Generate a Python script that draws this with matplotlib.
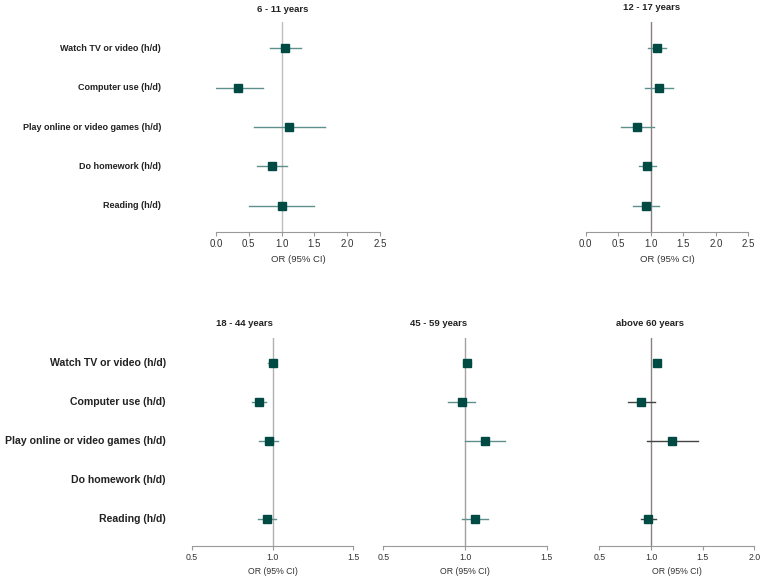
import matplotlib.pyplot as plt
import numpy as np
from matplotlib.transforms import blended_transform_factory

plt.rcParams['font.family'] = ['Liberation Sans', 'DejaVu Sans']

# activities (rows, top to bottom)
activities = ['Watch TV or video (h/d)', 'Computer use (h/d)',
              'Play online or video games (h/d)', 'Do homework (h/d)',
              'Reading (h/d)']

# odds ratios and 95% CI per age group (None = not reported)
or_6_11 = [1.05, 0.33, 1.12, 0.86, 1.00]
lo_6_11 = [0.82, 0.00, 0.58, 0.62, 0.51]
hi_6_11 = [1.30, 0.71, 1.66, 1.08, 1.50]

or_12_17 = [1.09, 1.12, 0.79, 0.95, 0.92]
lo_12_17 = [0.96, 0.91, 0.55, 0.82, 0.73]
hi_12_17 = [1.24, 1.34, 1.05, 1.08, 1.12]

or_18_44 = [1.00, 0.914, 0.977, None, 0.965]
lo_18_44 = [0.975, 0.875, 0.918, None, 0.91]
hi_18_44 = [1.02, 0.957, 1.037, None, 1.02]

or_45_59 = [1.012, 0.98, 1.124, None, 1.059]
lo_45_59 = [0.988, 0.898, 1.00, None, 0.98]
hi_45_59 = [1.035, 1.063, 1.247, None, 1.141]

or_60 = [1.058, 0.906, 1.206, None, 0.974]
lo_60 = [1.035, 0.774, 0.961, None, 0.903]
hi_60 = [1.08, 1.042, 1.455, None, 1.048]

W, H = 766, 582
fig = plt.figure(figsize=(W / 100, H / 100), dpi=100)

marker_color = '#004a44'
ci_color = '#5f8f8c'


def px_axes(x0, x1, y0, y1):
    return fig.add_axes([x0 / W, 1 - y1 / H, (x1 - x0) / W, (y1 - y0) / H])


def forest(ax, est, lo, hi, xlim, ticks, ylim, ref_color, ci_col,
           tick_fs, lab_fs):
    for i, (e, l, h) in enumerate(zip(est, lo, hi)):
        if e is None:
            continue
        ax.plot([l, h], [i, i], color=ci_col, lw=1.0, zorder=2)
        ax.plot(e, i, marker='s', ms=5.2, color=marker_color,
                mec=marker_color, zorder=3)
    ax.axvline(1.0, color=ref_color, lw=1.0, zorder=1)
    ax.set_xlim(*xlim)
    ax.set_ylim(*ylim)
    ax.set_xticks(ticks)
    ax.set_xticklabels(['%.1f' % t for t in ticks], fontsize=tick_fs,
                       color='#333333')
    ax.tick_params(axis='x', length=3, width=0.8, color='#999999', pad=2)
    ax.set_yticks([])
    for s in ['top', 'right', 'left']:
        ax.spines[s].set_visible(False)
    ax.spines['bottom'].set_color('#999999')
    ax.spines['bottom'].set_linewidth(0.8)
    ax.set_xlabel('OR (95% CI)', fontsize=lab_fs, color='#333333',
                  labelpad=4)
    ax.patch.set_alpha(0)


# top row
ax1 = px_axes(216, 380, 22, 232)
forest(ax1, or_6_11, lo_6_11, hi_6_11, (0, 2.5), np.arange(0, 2.51, 0.5),
       (4.66, -0.66), '#bdbdbd', ci_color, 7, 6.8)
ax2 = px_axes(585.7, 748.3, 22, 232)
forest(ax2, or_12_17, lo_12_17, hi_12_17, (0, 2.5), np.arange(0, 2.51, 0.5),
       (4.66, -0.66), '#8a7e7e', ci_color, 7, 6.8)

# bottom row
ax3 = px_axes(191.7, 353.3, 338, 546)
forest(ax3, or_18_44, lo_18_44, hi_18_44, (0.5, 1.5), [0.5, 1.0, 1.5],
       (4.68, -0.65), '#b0b0b0', ci_color, 6.3, 6.3)
ax4 = px_axes(383.3, 546.7, 338, 546)
forest(ax4, or_45_59, lo_45_59, hi_45_59, (0.5, 1.5), [0.5, 1.0, 1.5],
       (4.68, -0.65), '#a8a0a0', ci_color, 6.3, 6.3)
ax5 = px_axes(599.3, 754.3, 338, 546)
forest(ax5, or_60, lo_60, hi_60, (0.5, 2.0), [0.5, 1.0, 1.5, 2.0],
       (4.68, -0.65), '#8a8080', '#444444', 6.3, 6.3)

# row labels
tr1 = blended_transform_factory(fig.transFigure, ax1.transData)
tr3 = blended_transform_factory(fig.transFigure, ax3.transData)
for i, lab in enumerate(activities):
    ax1.text(161 / W, i, lab, transform=tr1, ha='right', va='center',
             fontsize=6.5, fontweight='bold', color='#222222')
    ax3.text(165.7 / W, i, lab, transform=tr3, ha='right', va='center',
             fontsize=7.55, fontweight='bold', color='#222222')

# panel titles
titles = ['6 - 11 years', '12 - 17 years', '18 - 44 years', '45 - 59 years',
          'above 60 years']
title_pos = [(283, 9), (651.7, 8), (244.3, 324), (438.3, 324), (650.3, 324)]
for t, (x, y) in zip(titles, title_pos):
    fig.text(x / W, 1 - y / H, t, ha='center', va='center', fontsize=6.8,
             fontweight='bold', color='#222222')

fig.savefig('out.png', dpi=100, facecolor='white')
